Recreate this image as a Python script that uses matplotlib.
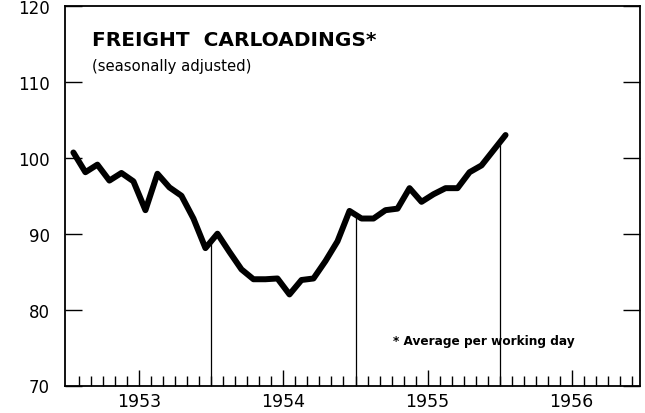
import numpy as np
import matplotlib.pyplot as plt

# monthly freight carloadings index, seasonally adjusted, Jan 1953 .. Jan 1956
carloadings = [
    100.7, 98.1, 99.1, 97.0, 98.0, 96.9, 93.1, 97.9, 96.1, 95.0, 92.0, 88.1,  # 1953
    90.0, 87.6, 85.3, 84.0, 84.0, 84.1, 82.0, 83.9, 84.1, 86.4, 89.0, 93.0,   # 1954
    92.0, 92.0, 93.1, 93.3, 96.0, 94.2, 95.2, 96.0, 96.0, 98.1, 99.0, 101.0,  # 1955
    103.0,                                                                    # 1956
]
years = [1953, 1954, 1955, 1956]
y_ticks = [70, 80, 90, 100, 110, 120]

plt.rcParams["font.family"] = "DejaVu Sans"

fig = plt.figure(figsize=(6.45, 4.14), dpi=100)
W, H = 645, 414
ax = fig.add_axes([65 / W, 27.5 / H, 575 / W, 379.5 / H])

# points sit in the middle of each month
months = np.arange(len(carloadings)) + 0.5
ax.plot(months, carloadings, color="black", lw=4.3,
        solid_joinstyle="round", solid_capstyle="round", zorder=3)

# thin drop lines at each year end, up to the curve
for i in range(1, len(years)):
    b = 12 * i
    ax.vlines(b, y_ticks[0], np.interp(b, months, carloadings), color="black", lw=0.9)

ax.set_xlim(-0.2, 47.7)
ax.set_ylim(y_ticks[0], y_ticks[-1])

ax.set_yticks(y_ticks)
ax.set_yticklabels([str(v) for v in y_ticks])
ax.tick_params(axis="y", direction="in", length=12, width=1,
               left=True, right=True, labelsize=12, pad=11)

ax.set_xticks([12 * i + 6 for i in range(len(years))])
ax.set_xticklabels([str(y) for y in years])
ax.set_xticks([m for m in range(1, 48) if m % 12 != 6], minor=True)
ax.tick_params(axis="x", which="major", direction="in", length=11.5, width=1,
               labelsize=12.5, pad=5)
ax.tick_params(axis="x", which="minor", direction="in", length=7, width=1)

for s in ax.spines.values():
    s.set_linewidth(1.3)

fig.text(92 / W, 1 - 40 / H, "FREIGHT  CARLOADINGS*", fontsize=14.5,
         fontweight="bold", va="center", ha="left")
fig.text(92 / W, 1 - 66 / H, "(seasonally adjusted)", fontsize=10.7,
         va="center", ha="left")
fig.text(393 / W, 1 - 342 / H, "* Average per working day", fontsize=8.7,
         fontweight="bold", va="center", ha="left")

fig.savefig("out.png", dpi=100)
